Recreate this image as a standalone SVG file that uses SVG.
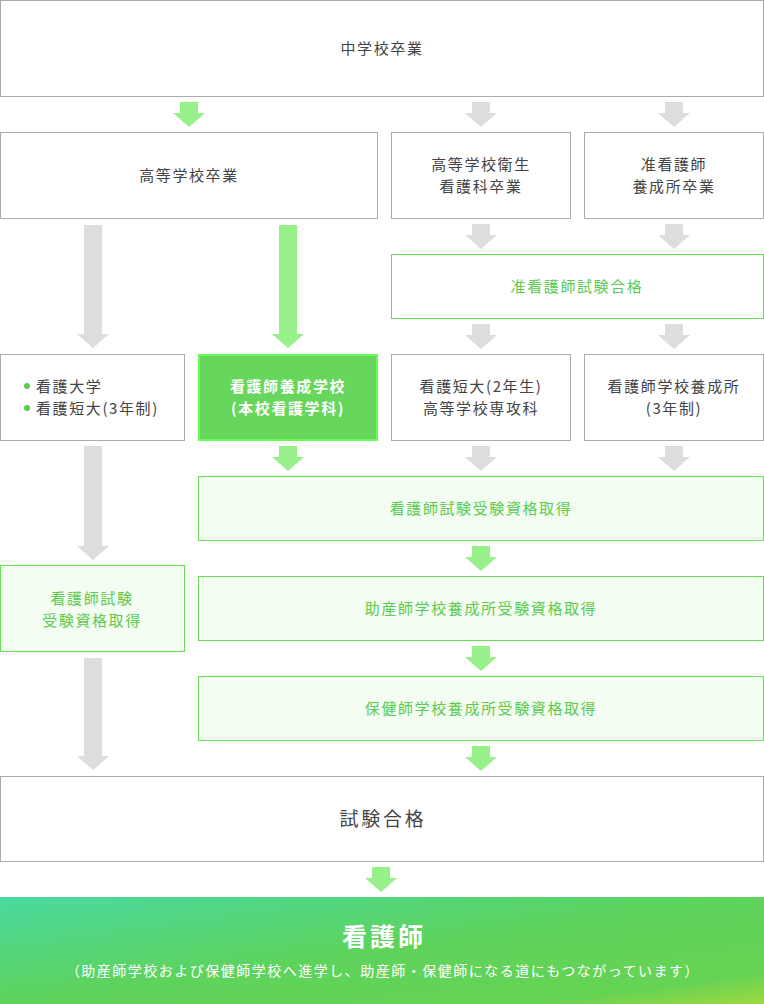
<svg xmlns="http://www.w3.org/2000/svg" width="764" height="1004" viewBox="0 0 764 1004">
<defs>
<style>
.bx{fill:#fff;stroke:#aaa;stroke-width:1}
.gb{fill:#fff;stroke:#66dd55;stroke-width:1}
.lg{fill:#f3fdf2;stroke:#66dd55;stroke-width:1}
.t{font-family:"Noto Sans CJK JP","Noto Sans",sans-serif;font-size:15px;fill:#444;text-anchor:middle;letter-spacing:1.6px}
.tg{fill:#5ccb4f}
.tw{fill:#fff;font-weight:bold}
.ga{fill:#ddd}
.gr{fill:#98f08a}
</style>
<linearGradient id="grad" x1="0" y1="0" x2="1" y2="1" gradientUnits="objectBoundingBox">
<stop offset="0" stop-color="#4ad9a0"/>
<stop offset="0.5" stop-color="#5ed35c"/>
<stop offset="0.85" stop-color="#66d354"/>
<stop offset="1" stop-color="#9cd940"/>
</linearGradient>
<path id="sa" d="M-9,0H9V11H16L0,25L-16,11H-9Z"/>
</defs>
<g id="connectors">
<use href="#sa" x="189" y="102" class="gr"/>
<use href="#sa" x="481" y="102" class="ga"/>
<use href="#sa" x="674" y="102" class="ga"/>
<use href="#sa" x="481" y="224" class="ga"/>
<use href="#sa" x="674" y="224" class="ga"/>
<use href="#sa" x="481" y="324" class="ga"/>
<use href="#sa" x="674" y="324" class="ga"/>
<path class="ga" d="M84,225H102V334H109L93,348L77,334H84Z"/>
<path class="gr" d="M279,225H297V334H304L288,348L272,334H279Z"/>
<use href="#sa" x="288" y="446" class="gr"/>
<use href="#sa" x="481" y="446" class="ga"/>
<use href="#sa" x="674" y="446" class="ga"/>
<path class="ga" d="M84,446H102V546H109L93,560L77,546H84Z"/>
<use href="#sa" x="481" y="546" class="gr"/>
<use href="#sa" x="481" y="646" class="gr"/>
<use href="#sa" x="481" y="746" class="gr"/>
<path class="ga" d="M84,658H102V756H109L93,770L77,756H84Z"/>
<use href="#sa" x="381" y="867" class="gr"/>
</g>
<g id="n1"><rect class="bx" x="0.5" y="0.5" width="763" height="96"/><text class="t" x="382" y="54">中学校卒業</text></g>
<g id="n2"><rect class="bx" x="0.5" y="132.5" width="377" height="86"/><text class="t" x="189" y="181">高等学校卒業</text></g>
<g id="n3"><rect class="bx" x="391.5" y="132.5" width="179" height="86"/><text class="t" x="481" y="170">高等学校衛生</text><text class="t" x="481" y="192">看護科卒業</text></g>
<g id="n4"><rect class="bx" x="584.5" y="132.5" width="179" height="86"/><text class="t" x="674" y="170">准看護師</text><text class="t" x="674" y="192">養成所卒業</text></g>
<g id="n5"><rect class="gb" x="391.5" y="254.5" width="372" height="64"/><text class="t tg" x="577" y="292">准看護師試験合格</text></g>
<g id="n6"><rect class="bx" x="0.5" y="354.5" width="184" height="86"/><circle cx="27" cy="386" r="3" fill="#5ccb4f"/><circle cx="27" cy="408" r="3" fill="#5ccb4f"/><text class="t" x="36" y="392" style="text-anchor:start">看護大学</text><text class="t" x="36" y="414" style="text-anchor:start">看護短大(3年制)</text></g>
<g id="n7"><rect x="199" y="355" width="178" height="85" fill="#66d65c" stroke="#66ff55" stroke-width="2"/><text class="t tw" x="288" y="392">看護師養成学校</text><text class="t tw" x="288" y="414">(本校看護学科)</text></g>
<g id="n8"><rect class="bx" x="391.5" y="354.5" width="179" height="86"/><text class="t" x="481" y="392">看護短大(2年生)</text><text class="t" x="481" y="414">高等学校専攻科</text></g>
<g id="n9"><rect class="bx" x="584.5" y="354.5" width="179" height="86"/><text class="t" x="674" y="392">看護師学校養成所</text><text class="t" x="674" y="414">(3年制)</text></g>
<g id="n10"><rect class="lg" x="198.5" y="476.5" width="565" height="64"/><text class="t tg" x="481" y="514">看護師試験受験資格取得</text></g>
<g id="n11"><rect class="lg" x="0.5" y="565.5" width="184" height="86"/><text class="t tg" x="92" y="604">看護師試験</text><text class="t tg" x="92" y="626">受験資格取得</text></g>
<g id="n12"><rect class="lg" x="198.5" y="576.5" width="565" height="64"/><text class="t tg" x="481" y="614">助産師学校養成所受験資格取得</text></g>
<g id="n13"><rect class="lg" x="198.5" y="676.5" width="565" height="64"/><text class="t tg" x="481" y="714">保健師学校養成所受験資格取得</text></g>
<g id="n14"><rect class="bx" x="0.5" y="776.5" width="763" height="85"/><text class="t" x="383" y="826" style="font-size:19px;letter-spacing:2.8px">試験合格</text></g>
<g id="n15"><rect x="0" y="897" width="764" height="107" fill="url(#grad)"/><text class="t tw" x="384" y="946" style="font-size:25px;letter-spacing:3px">看護師</text><text class="t" x="383" y="976" style="fill:#fff;font-size:14px;letter-spacing:1.5px">（助産師学校および保健師学校へ進学し、助産師・保健師になる道にもつながっています）</text></g>
</svg>
